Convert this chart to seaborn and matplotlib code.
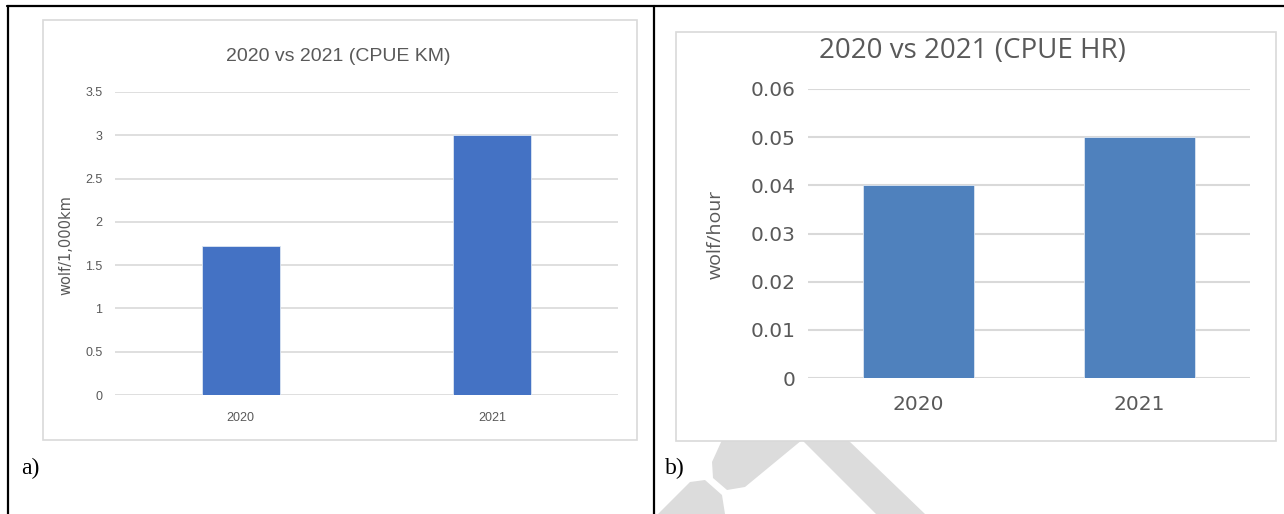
import matplotlib
matplotlib.use("Agg")
import matplotlib.pyplot as plt
import seaborn as sns
from matplotlib.patches import Rectangle, Polygon
from matplotlib.lines import Line2D

# data
years = ["2020", "2021"]
cpue_km = [1.72, 3.0]
cpue_hr = [0.04, 0.05]
km_ticks = [0, 0.5, 1, 1.5, 2, 2.5, 3, 3.5]
km_labels = ["0", "0.5", "1", "1.5", "2", "2.5", "3", "3.5"]
hr_ticks = [0, 0.01, 0.02, 0.03, 0.04, 0.05, 0.06]
hr_labels = ["0", "0.01", "0.02", "0.03", "0.04", "0.05", "0.06"]

sns.set_style("white")
plt.rcParams["font.family"] = ["DejaVu Sans"]

W, H = 1284, 514
fig = plt.figure(figsize=(W / 100, H / 100), dpi=100)
fig.patch.set_facecolor("white")


def fx(px):
    return px / W


def fy(py):
    return 1 - py / H


txt = "#595959"
grid = "#D9D9D9"
narrow = ["Liberation Sans", "DejaVu Sans"]
opens = ["Open Sans", "DejaVu Sans"]
wide = ["DejaVu Sans"]

# watermark shapes (light grey hammer) - behind everything
wm = "#DCDCDC"
for pts in [
    [(802, 440), (848, 440), (925, 514), (876, 514)],
    [(722, 440), (802, 440), (745, 487), (727, 490), (713, 478), (712, 462)],
    [(658, 514), (690, 482), (705, 480), (722, 495), (725, 514)],
]:
    fig.patches.append(Polygon([(fx(x), fy(y)) for x, y in pts], closed=True,
                               transform=fig.transFigure, facecolor=wm,
                               edgecolor="none", zorder=-3))

# chart frames
for x0, y0, x1, y1 in [(43, 20, 637, 440), (676, 32, 1276, 441)]:
    fig.patches.append(Rectangle((fx(x0), fy(y1)), fx(x1 - x0), (y1 - y0) / H,
                                 transform=fig.transFigure, facecolor="white",
                                 edgecolor=grid, lw=1.2, zorder=-2))

# ---- a) CPUE per km ----
ax1 = fig.add_axes([fx(115), fy(395), fx(618 - 115), (395 - 92) / H])
sns.barplot(x=years, y=cpue_km, ax=ax1, color="#4472C4", saturation=1,
            width=0.31, edgecolor="#DCE6F2", linewidth=0.6, zorder=3)
ax1.set_xlim(-0.5, 1.5)
ax1.set_ylim(0, 3.5)
ax1.set_yticks(km_ticks)
ax1.set_yticklabels(km_labels, family=narrow, fontsize=9, color=txt)
ax1.set_xticks(range(len(years)))
ax1.set_xticklabels(years, family=narrow, fontsize=9, color=txt)
ax1.tick_params(axis="y", length=0, pad=9)
ax1.tick_params(axis="x", length=0, pad=12)
ax1.set_ylabel("wolf/1,000km", fontsize=10.5, color=txt)
ax1.yaxis.set_label_coords(-0.083, 0.495)
ax1.yaxis.grid(True, color=grid, lw=1.2)
ax1.set_axisbelow(True)
sns.despine(ax=ax1, left=True, bottom=True)
ax1.patch.set_alpha(0)
fig.text(fx(338), fy(56), "2020 vs 2021 (CPUE KM)", family=narrow,
         fontsize=14, color=txt, ha="center", va="center")

# ---- b) CPUE per hour ----
ax2 = fig.add_axes([fx(808), fy(378), fx(1250 - 808), (378 - 89) / H])
sns.barplot(x=years, y=cpue_hr, ax=ax2, color="#4F81BD", saturation=1,
            width=0.5, edgecolor="#DCE6F2", linewidth=0.6, zorder=3)
ax2.set_xlim(-0.5, 1.5)
ax2.set_ylim(0, 0.06)
ax2.set_yticks(hr_ticks)
ax2.set_yticklabels(hr_labels, family=wide, fontsize=14.5, color=txt)
ax2.set_xticks(range(len(years)))
ax2.set_xticklabels(years, family=wide, fontsize=14.5, color=txt)
ax2.tick_params(axis="y", length=0, pad=9)
ax2.tick_params(axis="x", length=0, pad=12)
ax2.set_ylabel("wolf/hour", family=opens, fontsize=14, color=txt)
ax2.yaxis.set_label_coords(-0.188, 0.498)
ax2.yaxis.grid(True, color=grid, lw=1.5)
ax2.set_axisbelow(True)
sns.despine(ax=ax2, left=True, bottom=True)
ax2.patch.set_alpha(0)
fig.text(fx(972), fy(51), "2020 vs 2021 (CPUE HR)", family=opens,
         fontsize=20, color=txt, ha="center", va="center")

# table lines and panel letters
for xs, ys in [([7, 1284], [6, 6]), ([8, 8], [6, 514]), ([654, 654], [6, 514])]:
    fig.lines.append(Line2D([fx(x) for x in xs], [fy(y) for y in ys],
                            transform=fig.transFigure, color="black", lw=1.6))
fig.text(fx(21), fy(468), "a)", family="Liberation Serif", fontsize=17,
         color="black", ha="left", va="center")
fig.text(fx(665), fy(468), "b)", family="Liberation Serif", fontsize=17,
         color="black", ha="left", va="center")

fig.savefig("out.png", dpi=100, facecolor="white")
